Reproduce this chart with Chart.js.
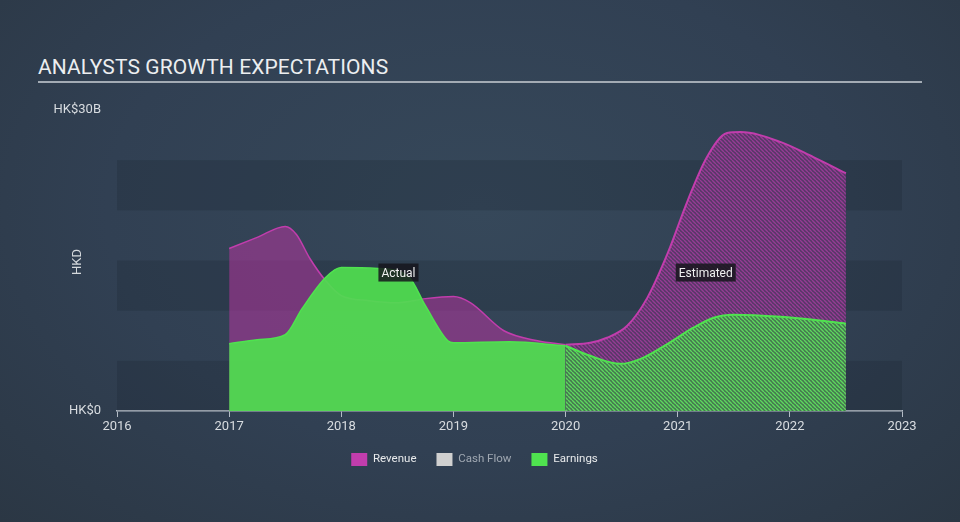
<!DOCTYPE html>
<html>
<head>
<meta charset="utf-8">
<script src="https://cdn.jsdelivr.net/npm/chart.js@4/dist/chart.umd.min.js"></script>
<style>
    html, body {
        margin: 0;
        padding: 0;
        width: 960px;
        height: 522px;
        overflow: hidden;
        background: radial-gradient(ellipse at 50% 40%, #36485a 0%, #314053 55%, #2b3744 100%);
        font-family: Roboto, sans-serif;
    }
    #title {
        position: absolute;
        left: 38px;
        top: 55px;
        font-size: 21px;
        color: #eceef0;
        letter-spacing: 0.1px;
    }
    #rule {
        position: absolute;
        left: 38px;
        top: 81px;
        width: 884px;
        height: 2px;
        background: #a3abb4;
    }
    #wrap {
        position: absolute;
        left: 0;
        top: 0;
        width: 960px;
        height: 522px;
    }
</style>
</head>
<body>
<div id="title">ANALYSTS GROWTH EXPECTATIONS</div>
<div id="rule"></div>
<div id="wrap"><canvas id="chart"></canvas></div>
<script>
// Values in HK$ billions, x in fractional years
const revenueActualYears = [2017, 2017.25, 2017.5, 2017.6, 2017.72, 2017.86, 2018, 2018.25, 2018.5, 2018.75, 2019, 2019.15, 2019.45, 2019.75, 2020];
const revenueActual = [16.2, 17.3, 18.4, 17.6, 15.2, 13.0, 11.5, 11.0, 10.8, 11.2, 11.4, 10.8, 8.0, 7.0, 6.6];

const revenueEstYears = [2020, 2020.22, 2020.37, 2020.55, 2020.73, 2020.91, 2021.09, 2021.26, 2021.44, 2021.56, 2021.92, 2022.21, 2022.5];
const revenueEst = [6.6, 6.8, 7.3, 8.5, 11.3, 15.7, 21.0, 25.3, 27.7, 27.8, 26.8, 25.3, 23.7];

const earningsActualYears = [2017, 2017.25, 2017.5, 2017.65, 2017.86, 2018, 2018.33, 2018.6, 2018.75, 2018.95, 2019, 2019.5, 2020];
const earningsActual = [6.7, 7.1, 7.6, 10.2, 13.3, 14.3, 14.2, 13.4, 10.5, 7.0, 6.8, 6.9, 6.5];

const earningsEstYears = [2020, 2020.22, 2020.49, 2020.67, 2020.91, 2021.14, 2021.32, 2021.5, 2021.92, 2022.21, 2022.5];
const earningsEst = [6.5, 5.5, 4.7, 5.2, 6.7, 8.3, 9.3, 9.6, 9.4, 9.1, 8.7];

const yearTicks = [2016, 2017, 2018, 2019, 2020, 2021, 2022, 2023];
const legendNames = ['Revenue', 'Cash Flow', 'Earnings'];

const REVENUE = '#c23dad';
const EARNINGS = '#4fe34f';
const CASHFLOW = '#d0d0d0';

const toPoints = (xs, ys) => xs.map((x, i) => ({ x: x, y: ys[i] }));

// Diagonal hatch fill for estimated areas
function hatch(base, line) {
    const c = document.createElement('canvas');
    c.width = 4;
    c.height = 4;
    const g = c.getContext('2d');
    g.fillStyle = base;
    g.fillRect(0, 0, 4, 4);
    g.strokeStyle = line;
    g.lineWidth = 1.4;
    g.beginPath();
    for (let k = -4; k <= 4; k += 4) {
        g.moveTo(k, 0);
        g.lineTo(k + 4, 4);
    }
    g.stroke();
    return g.createPattern(c, 'repeat');
}

// Alternating horizontal bands behind the plot
const bandsPlugin = {
    id: 'bands',
    beforeDatasetsDraw(chart) {
        const { ctx, chartArea, scales } = chart;
        const y = scales.y;
        ctx.save();
        ctx.fillStyle = 'rgba(20, 28, 38, 0.2)';
        for (let v = 0; v < 25; v += 10) {
            const top = y.getPixelForValue(v + 5);
            const bottom = y.getPixelForValue(v);
            ctx.fillRect(chartArea.left, top, chartArea.right - chartArea.left, bottom - top);
        }
        ctx.restore();
    }
};

// "Actual" / "Estimated" tags and rotated axis name
const tagsPlugin = {
    id: 'tags',
    afterDatasetsDraw(chart) {
        const { ctx, scales } = chart;
        const tags = [
            { text: 'Actual', x: 2018.51, y: 13.8 },
            { text: 'Estimated', x: 2021.25, y: 13.8 }
        ];
        ctx.save();
        ctx.font = '12px Roboto, sans-serif';
        ctx.textAlign = 'center';
        ctx.textBaseline = 'middle';
        tags.forEach(t => {
            const px = scales.x.getPixelForValue(t.x);
            const py = scales.y.getPixelForValue(t.y);
            const w = ctx.measureText(t.text).width + 6;
            ctx.fillStyle = 'rgba(22, 22, 28, 0.85)';
            ctx.fillRect(px - w / 2, py - 9, w, 18);
            ctx.fillStyle = '#f0f0f0';
            ctx.fillText(t.text, px, py + 1);
        });
        ctx.translate(78, 262);
        ctx.rotate(-Math.PI / 2);
        ctx.fillStyle = '#d4d8dc';
        ctx.font = '13px Roboto, sans-serif';
        ctx.fillText('HKD', 0, 0);
        ctx.restore();
    }
};

const ctx = document.getElementById('chart').getContext('2d');

new Chart(ctx, {
    type: 'line',
    data: {
        datasets: [
            {
                label: 'Earnings',
                data: toPoints(earningsActualYears, earningsActual),
                borderColor: EARNINGS,
                backgroundColor: 'rgba(80, 222, 80, 0.93)',
                borderWidth: 1.5,
                fill: 'origin',
                order: 1
            },
            {
                label: 'Earnings estimate',
                data: toPoints(earningsEstYears, earningsEst),
                borderColor: EARNINGS,
                backgroundColor: hatch('#457650', '#5ed85e'),
                borderWidth: 2,
                fill: 'origin',
                order: 1
            },
            {
                label: 'Revenue',
                data: toPoints(revenueActualYears, revenueActual),
                borderColor: REVENUE,
                backgroundColor: 'rgba(180, 55, 160, 0.55)',
                borderWidth: 1.5,
                fill: 'origin',
                order: 2
            },
            {
                label: 'Revenue estimate',
                data: toPoints(revenueEstYears, revenueEst),
                borderColor: REVENUE,
                backgroundColor: hatch('#563866', '#963c95'),
                borderWidth: 2,
                fill: 'origin',
                order: 2
            }
        ]
    },
    options: {
        responsive: true,
        maintainAspectRatio: false,
        animation: false,
        events: [],
        elements: {
            point: { radius: 0 },
            line: { cubicInterpolationMode: 'monotone' }
        },
        layout: {
            padding: { top: 110, right: 11, left: 0, bottom: 46 }
        },
        plugins: {
            filler: { drawTime: 'beforeDatasetDraw' },
            tooltip: { enabled: false },
            legend: {
                display: true,
                position: 'bottom',
                labels: {
                    boxWidth: 16,
                    boxHeight: 13,
                    padding: 20,
                    font: { family: 'Roboto', size: 11.5 },
                    generateLabels: function() {
                        const colors = [REVENUE, CASHFLOW, EARNINGS];
                        return legendNames.map((name, i) => ({
                            text: name,
                            fillStyle: colors[i],
                            strokeStyle: colors[i],
                            lineWidth: 0,
                            fontColor: i === 1 ? '#a0a8b2' : '#e8eaec',
                            hidden: false,
                            datasetIndex: i
                        }));
                    }
                }
            }
        },
        scales: {
            x: {
                type: 'linear',
                min: 2016,
                max: 2023,
                afterBuildTicks: function(scale) {
                    scale.ticks = yearTicks.map(v => ({ value: v }));
                },
                afterFit: function(scale) {
                    scale.height = 22;
                },
                grid: {
                    display: true,
                    drawOnChartArea: false,
                    drawTicks: true,
                    tickLength: 6,
                    color: '#b4bcc6'
                },
                border: { display: true, color: '#b4bcc6', width: 1.5 },
                ticks: {
                    padding: 2,
                    color: '#d8dce0',
                    font: { family: 'Roboto', size: 13 },
                    callback: v => String(v)
                }
            },
            y: {
                min: 0,
                max: 30,
                afterBuildTicks: function(scale) {
                    scale.ticks = [{ value: 0 }, { value: 30 }];
                },
                afterFit: function(scale) {
                    scale.width = 117;
                },
                grid: { display: false, drawTicks: false },
                border: { display: false },
                ticks: {
                    padding: 16,
                    color: '#d8dce0',
                    font: { family: 'Roboto', size: 13 },
                    callback: v => (v === 0 ? 'HK$0' : 'HK$' + v + 'B')
                }
            },
            // empty right-hand axis only reserves the space right of the plot
            yRight: {
                position: 'right',
                min: 0,
                max: 30,
                afterFit: function(scale) {
                    scale.width = 47;
                },
                grid: { display: false, drawTicks: false },
                border: { display: false },
                ticks: { display: false }
            }
        }
    },
    plugins: [bandsPlugin, tagsPlugin]
});
</script>
</body>
</html>
